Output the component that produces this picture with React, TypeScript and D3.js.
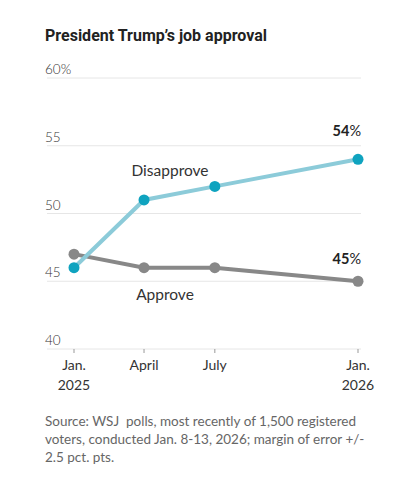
import React from "react";
import * as d3 from "d3";

const dates = ["2025-01-01", "2025-04-01", "2025-07-01", "2026-01-01"];
const disapprove = [46, 51, 52, 54];
const approve = [47, 46, 46, 45];
const yTicks = [40, 45, 50, 55, 60];
const xTickLabels = [["Jan.", "2025"], ["April"], ["July"], ["Jan.", "2026"]];
const sourceLines = [
  "Source: WSJ\u00a0 polls, most recently of 1,500 registered",
  "voters, conducted Jan. 8-13, 2026; margin of error +/-",
  "2.5 pct. pts.",
];

const FONT = "Lato, 'Noto Sans', sans-serif";

export default function App() {
  const W = 398, H = 477;
  const parse = d3.timeParse("%Y-%m-%d");
  const ds = dates.map((d) => parse(d)!);
  const x = d3.scaleTime().domain([ds[0], ds[3]]).range([74, 358]);
  const y = d3.scaleLinear().domain([40, 60]).range([349, 78]);
  const line = d3
    .line<number>()
    .x((_, i) => x(ds[i]))
    .y((v) => y(v));
  const left = 47, right = 361;

  return (
    <svg width={W} height={H} style={{ position: "absolute", left: 0, top: 0, background: "#fff" }} fontFamily={FONT}>
      <text x={45} y={41} fontSize={16} fontWeight={700} fill="#222" fontFamily="Roboto, sans-serif">President Trump’s job approval</text>
      {yTicks.map((t) => (
        <g key={t}>
          <line x1={left} x2={right} y1={y(t)} y2={y(t)} stroke="#e6e6e6" strokeWidth={1} />
          <text x={45} y={y(t) - 4} fontSize={13.5} fill="#333" fontWeight={300}>
            {t === 60 ? "60%" : t}
          </text>
        </g>
      ))}
      {ds.map((d, i) => (
        <g key={i}>
          <line x1={x(d)} x2={x(d)} y1={y(40)} y2={y(40) + 4} stroke="#999" strokeWidth={1} />
          {xTickLabels[i].map((s, j) => (
            <text key={j} x={x(d)} y={370 + j * 20} textAnchor="middle" fontSize={14} fill="#333" fontWeight={400}>{s}</text>
          ))}
        </g>
      ))}
      <path d={line(approve)!} fill="none" stroke="#888" strokeWidth={4} />
      <path d={line(disapprove)!} fill="none" stroke="#8ccbd9" strokeWidth={4} />
      {approve.map((v, i) => (
        <circle key={"a" + i} cx={x(ds[i])} cy={y(v)} r={5.5} fill="#888" />
      ))}
      {disapprove.map((v, i) => (
        <circle key={"d" + i} cx={x(ds[i])} cy={y(v)} r={5.5} fill="#0fa3bf" />
      ))}
      <text x={170} y={176} textAnchor="middle" fontSize={15.5} fill="#333" fontWeight={400}>Disapprove</text>
      <text x={165} y={300} textAnchor="middle" fontSize={15.5} fill="#333" fontWeight={400}>Approve</text>
      <text x={361} y={136} textAnchor="end" fontSize={14.5} fill="#222">
        <tspan fontWeight={700}>{disapprove[3]}</tspan><tspan fontWeight={400}>%</tspan>
      </text>
      <text x={361} y={264} textAnchor="end" fontSize={14.5} fill="#222">
        <tspan fontWeight={700}>{approve[3]}</tspan><tspan fontWeight={400}>%</tspan>
      </text>
      {sourceLines.map((s, i) => (
        <text key={i} x={45} y={426 + i * 18} fontSize={13.5} fill="#666" fontWeight={400}>{s}</text>
      ))}
    </svg>
  );
}
